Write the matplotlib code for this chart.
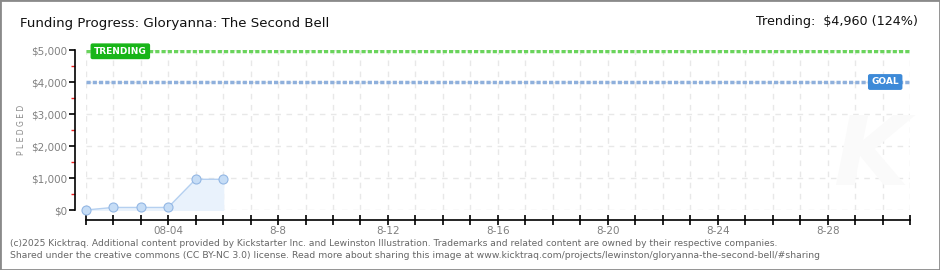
# =========================================================
# KICKTRAQ STYLE FUNDING PROGRESS CHART
# =========================================================

import matplotlib
matplotlib.use("Agg")
import matplotlib.pyplot as plt
from matplotlib.ticker import FuncFormatter, MultipleLocator
from matplotlib.patches import Rectangle

# =========================================================
# DATA
# =========================================================

days = [1, 2, 3, 4, 5, 6]
pledged = [0, 80, 80, 80, 960, 960]

goal = 4000
trending = 4960

tick_days = list(range(1, 32))
label_days = [4, 8, 12, 16, 20, 24, 28]
label_text = ["08-04", "8-8", "8-12", "8-16", "8-20", "8-24", "8-28"]

title = "Funding Progress: Gloryanna: The Second Bell"
trend_text = "Trending:  $4,960 (124%)"
footer_1 = ("(c)2025 Kicktraq. Additional content provided by Kickstarter Inc. and Lewinston "
            "Illustration. Trademarks and related content are owned by their respective companies.")
footer_2 = ("Shared under the creative commons (CC BY-NC 3.0) license. Read more about sharing "
            "this image at www.kicktraq.com/projects/lewinston/gloryanna-the-second-bell/#sharing")

# =========================================================
# FIGURE
# =========================================================

W, H = 940, 270
fig = plt.figure(figsize=(W / 100, H / 100), dpi=100)
fig.patch.set_facecolor("white")

# outer border
fig.patches.append(Rectangle((0, 0), 1, 1, transform=fig.transFigure,
                             fill=False, edgecolor="#8a8a8a", linewidth=2))

x0, x1 = 85.7, 910
y0, y1 = 210, 50
ax = fig.add_axes([x0 / W, 1 - y0 / H, (x1 - x0) / W, (y0 - y1) / H])
ax.set_xlim(1, 31)
ax.set_ylim(0, 5000)
ax.set_facecolor("none")
ax.patch.set_alpha(0)

# =========================================================
# GRID
# =========================================================

for d in tick_days:
    ax.axvline(d, color="#e8e8e8", lw=1, ls=(0, (4, 4)), zorder=0)
for v in range(0, 5001, 1000):
    ax.axhline(v, color="#e8e8e8", lw=1, ls=(0, (4, 4)), zorder=0)

# watermark
ax.text(29.6, 1600, "K", fontsize=70, style="italic", color="#fafafa",
        ha="center", va="center", zorder=0, fontweight="bold")

# =========================================================
# GOAL / TRENDING LINES
# =========================================================

ax.axhline(trending, color="#6ad45c", lw=2.5, ls=(0, (1.2, 0.6)), zorder=2)
ax.axhline(goal, color="#8fb0dc", lw=2.5, ls=(0, (1.2, 0.6)), zorder=2)

ax.text(1.3, trending, "TRENDING", fontsize=6.5, color="white", fontweight="bold",
        ha="left", va="center", zorder=5,
        bbox=dict(boxstyle="round,pad=0.3,rounding_size=0.15",
                  fc="#18b518", ec="#18b518"))
ax.text(30.6, goal, "GOAL", fontsize=6.5, color="white", fontweight="bold",
        ha="right", va="center", zorder=5,
        bbox=dict(boxstyle="round,pad=0.3,rounding_size=0.15",
                  fc="#3d8ad8", ec="#3d8ad8"))

# =========================================================
# PLEDGE SERIES
# =========================================================

ax.fill_between(days, pledged, 0, color="#e9f2fc", zorder=1)
ax.plot(days, pledged, color="#b5d0f0", lw=1, zorder=3,
        marker="o", markersize=6.5, markerfacecolor="#c6ddf6",
        markeredgecolor="#93b7e4", markeredgewidth=0.8, clip_on=False)

# =========================================================
# AXES STYLE
# =========================================================

for s in ["top", "right"]:
    ax.spines[s].set_visible(False)
ax.spines["left"].set_position(("outward", 7.5))
ax.spines["bottom"].set_position(("outward", 7.5))
ax.spines["left"].set_color("black")
ax.spines["bottom"].set_color("black")
ax.spines["left"].set_linewidth(1.2)
ax.spines["bottom"].set_linewidth(1.2)

ax.yaxis.set_major_locator(MultipleLocator(1000))
ax.yaxis.set_minor_locator(MultipleLocator(500))
ax.yaxis.set_major_formatter(FuncFormatter(lambda v, p: "${:,.0f}".format(v)))
ax.tick_params(axis="y", which="major", direction="out", length=4, width=1.2,
               color="black", labelsize=7.5, labelcolor="#808080", pad=2)
ax.tick_params(axis="y", which="minor", direction="out", length=3, width=1,
               color="#ee2222")

ax.set_xticks(tick_days)
ax.set_xticklabels([label_text[label_days.index(d)] if d in label_days else ""
                    for d in tick_days])
ax.tick_params(axis="x", direction="inout", length=7, width=1.2, color="black",
               labelsize=7.5, labelcolor="#808080", pad=0.5)

fig.text(22 / W, 1 - 130 / H, "P L E D G E D", rotation=90, fontsize=5.5,
         color="#888888", ha="center", va="center")

# =========================================================
# TITLES / FOOTER
# =========================================================

fig.text(20 / W, 1 - 24 / H, title, fontsize=9.6, color="#111111",
         ha="left", va="center")
fig.text(918 / W, 1 - 22 / H, trend_text, fontsize=9.2, color="#111111",
         ha="right", va="center")

fig.text(10 / W, 1 - 243 / H, footer_1, fontsize=6.6, color="#666666",
         ha="left", va="center")
fig.text(10 / W, 1 - 255 / H, footer_2, fontsize=6.65, color="#666666",
         ha="left", va="center")

fig.savefig("out.png", dpi=100)
